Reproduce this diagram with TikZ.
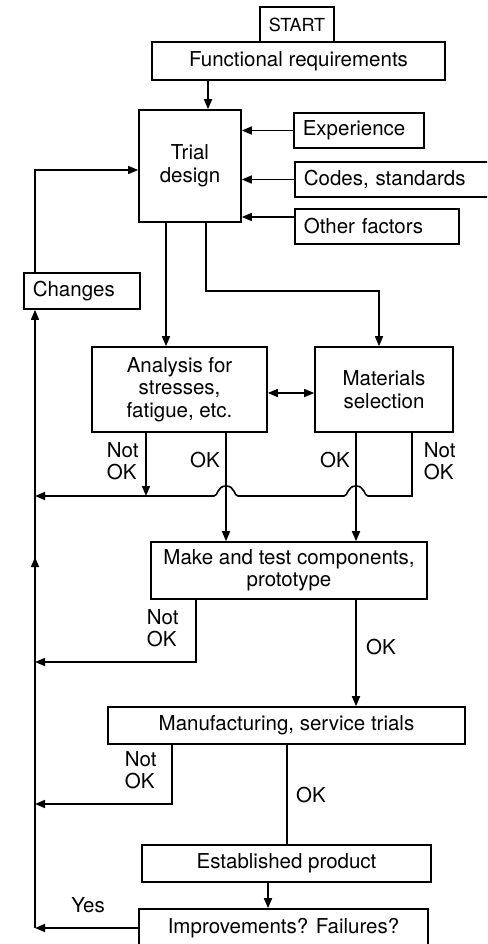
\documentclass[tikz,border=0pt]{standalone}
\usepackage{fontspec}
\setmainfont{TeX Gyre Heros}
\usetikzlibrary{arrows.meta,decorations.markings}
\begin{document}
\begin{tikzpicture}[x=1pt,y=-1pt,
  line width=1.6pt,
  tip/.tip={Triangle[length=10pt,width=8pt]},
  arr/.style={-{Triangle[length=10pt,width=8pt]}},
  dbl/.style={{Triangle[length=10pt,width=8pt]}-{Triangle[length=10pt,width=8pt]}},
  box/.style={draw, line width=1.6pt, inner sep=0pt, align=center, font=\fontsize{20.5}{22.5}\selectfont},
  lbox/.style={box, align=left, inner xsep=9pt, anchor=west},
  lbl/.style={inner sep=0pt, align=left, font=\fontsize{20.5}{22}\selectfont},
  midup/.style={decoration={markings, mark=at position 0.6 with {\arrow{Triangle[length=10pt,width=8pt]}}}, postaction={decorate}}
]
\useasboundingbox (0,0) rectangle (487,944);
\clip (0,0) rectangle (487,944);

% boxes
\node[box, minimum width=74pt, minimum height=35pt, font=\fontsize{18}{20}\selectfont] (st) at (297,24.5) {START};
\node[box, minimum width=293pt, minimum height=38pt] (fr) at (298.5,61) {Functional requirements};
\node[box, minimum width=102pt, minimum height=112pt] (td) at (190,166) {Trial\\design};
\node[lbox, text width=112pt, minimum height=35pt] (ex) at (293,130.5) {Experience};
\node[lbox, text width=190pt, minimum height=35pt] (cs) at (294,179.5) {Codes, standards};
\node[lbox, text width=146pt, minimum height=35pt] (of) at (294,226.5) {Other factors};
\node[lbox, text width=98pt, minimum height=36pt] (ch) at (23,291) {Changes};
\node[box, minimum width=175pt, minimum height=85pt] (an) at (179.5,389.5) {Analysis for\\stresses,\\fatigue, etc.};
\node[box, minimum width=138pt, minimum height=85pt] (ms) at (384,389.5) {Materials\\selection};
\node[box, minimum width=276pt, minimum height=57pt] (mt) at (289,570.5) {Make and test components,\\prototype};
\node[box, minimum width=357pt, minimum height=37pt] (mf) at (286.5,725.5) {Manufacturing, service trials};
\node[box, minimum width=289pt, minimum height=37pt] (ep) at (286.5,863.5) {Established product};
\node[box, minimum width=289pt, minimum height=38pt] (im) at (283.5,928) {Improvements? Failures?};

% free ends on the return line
\coordinate (r1) at (35,496);
\coordinate (r2) at (35,662);
\coordinate (r3) at (35,804);
\coordinate (r4) at (35,928);

% connectors
\draw[arr] (fr.south -| 208,0) -- (td.north -| 208,0);
\draw[arr] (ex.west) -- (td.east |- ex.west);
\draw[arr] (cs.west) -- (td.east |- cs.west);
\draw[arr] (of.west |- 0,217) -- (td.east |- 0,217);
\draw[arr] (ch.north -| 35,0) -- (35,170) -- (td.west |- 0,170);
\draw[arr] (td.south -| 166,0) -- (an.north -| 166,0);
\draw[arr] (td.south -| 206,0) -- (206,291) -- (379,291) -- (ms.north -| 379,0);
\draw[dbl] (an.east |- 0,393) -- (ms.west |- 0,393);

\draw[arr] (an.south -| 146,0) -- (146,496);
\draw[arr] (ms.south -| 412,0) -- (412,496) -- (368,496)
   .. controls (364,496) and (365,486) .. (356,486)
   .. controls (347,486) and (348,496) .. (344,496)
   -- (238,496)
   .. controls (234,496) and (235,486) .. (226,486)
   .. controls (217,486) and (218,496) .. (214,496)
   -- (r1);
\draw[arr] (an.south -| 226,0) -- (mt.north -| 226,0);
\draw[arr] (ms.south -| 356,0) -- (mt.north -| 356,0);

\draw[arr] (mt.south -| 196,0) -- (196,662) -- (r2);
\draw[arr] (mt.south -| 356,0) -- (mf.north -| 356,0);
\draw[arr] (mf.south -| 172,0) -- (172,804) -- (r3);
\draw (mf.south -| 287,0) -- (ep.north -| 287,0);
\draw[arr] (ep.south -| 268,0) -- (im.north -| 268,0);
\draw[arr] (im.west) -- (r4);
\draw[arr, midup] (r4) -- (ch.south -| 35,0);

% labels
\node[lbl, anchor=west] (n1) at (106,461) {Not\\OK};
\node[lbl] (k1) at (205,460) {OK};
\node[lbl] (k2) at (335,460) {OK};
\node[lbl, anchor=west] (n2) at (423,461) {Not\\OK};
\node[lbl, anchor=west] (n3) at (146,628) {Not\\OK};
\node[lbl] (k3) at (381,647) {OK};
\node[lbl, anchor=west] (n4) at (124,770) {Not\\OK};
\node[lbl] (k4) at (311,795) {OK};
\node[lbl] (y1) at (88,905) {Yes};
\end{tikzpicture}
\end{document}
